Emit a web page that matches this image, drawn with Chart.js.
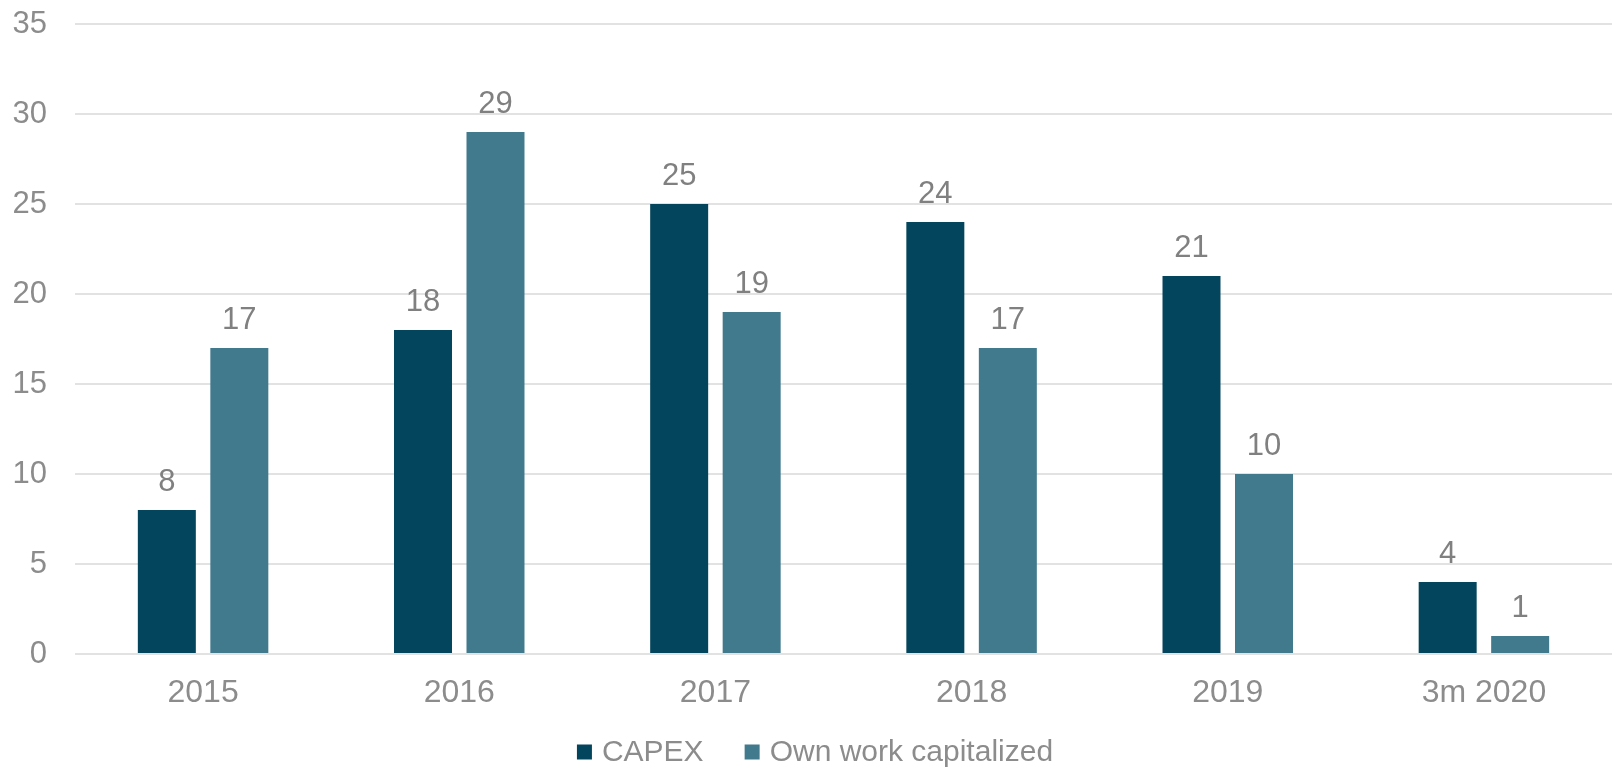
<!DOCTYPE html>
<html>
<head>
<meta charset="utf-8">
<script src="https://cdn.jsdelivr.net/npm/chart.js@4"></script>
<style>
  html, body { margin: 0; padding: 0; background: #ffffff; }
  #wrap { width: 1614px; height: 769px; position: relative; }
</style>
</head>
<body>
<div id="wrap"><canvas id="c" width="1614" height="769"></canvas></div>
<script>
const categories = ["2015", "2016", "2017", "2018", "2019", "3m 2020"];
const capex = [8, 18, 25, 24, 21, 4];
const ownWork = [17, 29, 19, 17, 10, 1];
const seriesNames = ["CAPEX", "Own work capitalized"];
const yTicks = [0, 5, 10, 15, 20, 25, 30, 35];

const FONT = "'Liberation Sans', Arial, sans-serif";
const TEXT = '#8c8c8c';

const valueLabels = {
  id: 'valueLabels',
  afterDatasetsDraw(chart) {
    const ctx = chart.ctx;
    ctx.save();
    ctx.font = '31px ' + FONT;
    ctx.fillStyle = '#808080';
    ctx.textAlign = 'center';
    ctx.textBaseline = 'alphabetic';
    chart.data.datasets.forEach((ds, di) => {
      const meta = chart.getDatasetMeta(di);
      meta.data.forEach((el, i) => {
        ctx.fillText(String(ds.data[i]), el.x, el.y - 19);
      });
    });
    ctx.restore();
  }
};

const customLegend = {
  id: 'customLegend',
  afterDraw(chart) {
    const ctx = chart.ctx;
    ctx.save();
    ctx.font = '30px ' + FONT;
    ctx.textBaseline = 'middle';
    ctx.textAlign = 'left';
    const box = 15, gapText = 10, gapItem = 41;
    const items = chart.data.datasets.map(d => ({ label: d.label, color: d.backgroundColor }));
    let total = 0;
    items.forEach((it, i) => {
      it.w = ctx.measureText(it.label).width;
      total += box + gapText + it.w + (i < items.length - 1 ? gapItem : 0);
    });
    let x = 815 - total / 2;
    const cy = 752;
    items.forEach(it => {
      ctx.fillStyle = it.color;
      ctx.fillRect(x, cy - box / 2, box, box);
      x += box + gapText;
      ctx.fillStyle = TEXT;
      ctx.fillText(it.label, x, cy + 1);
      x += it.w + gapItem;
    });
    ctx.restore();
  }
};

new Chart(document.getElementById('c'), {
  type: 'bar',
  data: {
    labels: categories,
    datasets: [
      { label: seriesNames[0], data: capex, backgroundColor: '#03455c', barPercentage: 0.8, categoryPercentage: 0.566 },
      { label: seriesNames[1], data: ownWork, backgroundColor: '#41798d', barPercentage: 0.8, categoryPercentage: 0.566 }
    ]
  },
  options: {
    responsive: false,
    animation: false,
    devicePixelRatio: 1,
    layout: { padding: { top: 24, right: 2, bottom: 55, left: 0 } },
    plugins: {
      legend: { display: false },
      tooltip: { enabled: false }
    },
    scales: {
      x: {
        grid: { display: false, drawTicks: false },
        border: { display: false },
        ticks: { color: TEXT, font: { family: FONT, size: 32 }, padding: 20 },
        afterFit(s) { s.height = 60; s.paddingLeft = 0; s.paddingRight = 0; }
      },
      y: {
        min: 0, max: 35,
        afterBuildTicks(s) { s.ticks = yTicks.map(v => ({ value: v })); },
        grid: { color: '#e2e2e2', lineWidth: 2, drawTicks: false },
        border: { display: false },
        ticks: { color: TEXT, font: { family: FONT, size: 31 }, padding: 28 },
        afterFit(s) { s.width = 75; s.paddingTop = 0; s.paddingBottom = 0; }
      }
    }
  },
  plugins: [valueLabels, customLegend]
});
</script>
</body>
</html>
